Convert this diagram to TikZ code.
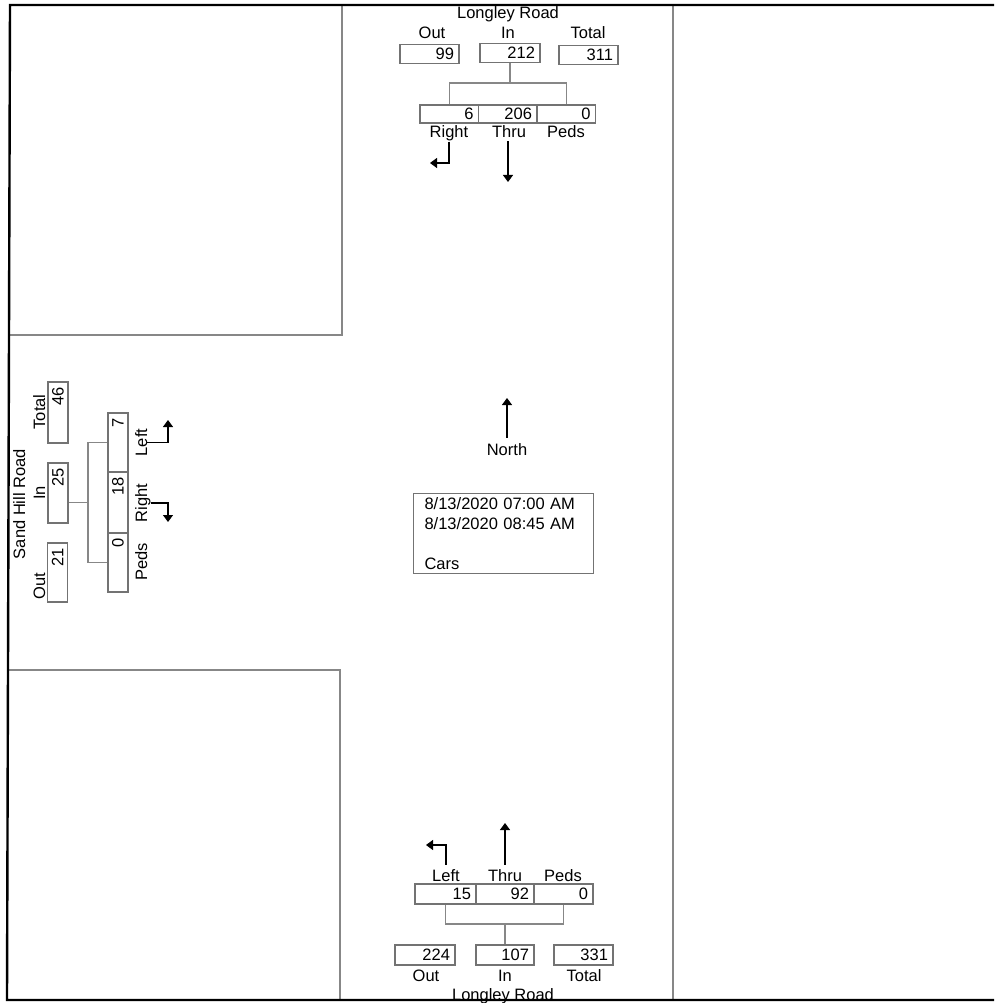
\documentclass[tikz,border=0pt]{standalone}
\usepackage{fontspec}
\setmainfont{Liberation Sans}
\usetikzlibrary{arrows.meta,calc}
\definecolor{boxgray}{RGB}{115,115,115}
\definecolor{linegray}{RGB}{135,135,135}
\begin{document}
\begin{tikzpicture}[x=1pt,y=-1pt,
  txt/.style={font=\fontsize{16.5}{20}\selectfont},
  lbl/.style={txt, inner sep=0pt, anchor=base},
  cnt/.style={txt, draw=boxgray, line width=1.1pt, inner xsep=5pt, inner ysep=0pt, align=right},
  tree/.style={draw=linegray, line width=1.1pt},
  road/.style={draw=linegray, line width=1.4pt},
  frame/.style={draw=black, line width=2.4pt},
  arr/.style={draw=black, line width=1.1pt, -{Triangle[length=7pt,width=10pt]}}]
\useasboundingbox (0,0) rectangle (994,1003);

% road edges
\draw[road] (9.5,335) -- (342,335) -- (342,5);
\draw[road] (8,670) -- (340,670) -- (340,1000);
\draw[road] (673,5) -- (673,1000);

% ---------- north approach ----------
\node[lbl] (tRoad) at (508,19) {Longley Road};
\node[lbl] (tOutL) at (432,39) {Out};
\node[lbl] (tInL) at (508,39) {In};
\node[lbl] (tTotL) at (588,39) {Total};
\node[cnt, text width=49pt, minimum height=19pt] (tOut) at (429.5,54) {99};
\node[cnt, text width=50pt, minimum height=19pt] (tIn) at (510,53) {212};
\node[cnt, text width=49pt, minimum height=19pt] (tTot) at (588.5,55) {311};
\node[cnt, text width=48.5pt, minimum height=18pt] (tR) at (449.25,114) {6};
\node[cnt, text width=48.5pt, minimum height=18pt] (tT) at (507.75,114) {206};
\node[cnt, text width=48.5pt, minimum height=18pt] (tP) at (566.25,114) {0};
\node[lbl] (tRL) at (449,138) {Right};
\node[lbl] (tTL) at (509,138) {Thru};
\node[lbl] (tPL) at (566,138) {Peds};
\coordinate (tJ) at (510,83);
\draw[tree] (tIn.south) -- (tJ);
\draw[tree] (tR.north) |- (tJ) -| (tP.north);
\coordinate (tRA) at (430,163);
\coordinate (tTA) at (508,182);
\draw[arr] (tRL.south) |- (tRA);
\draw[arr] ($(tTL.south -| tTA)+(0,3)$) -- (tTA);

% ---------- south approach ----------
\coordinate (bLA) at (426,845);
\coordinate (bTA) at (505,823);
\node[lbl] (bLL) at (446,881) {Left};
\node[lbl] (bTL) at (505,881) {Thru};
\node[lbl] (bPL) at (563,881) {Peds};
\draw[arr] ($(bLL.north)+(0,-4)$) |- (bLA);
\draw[arr] ($(bTL.north -| bTA)+(0,-4)$) -- (bTA);
\node[cnt, text width=51pt, minimum height=20pt] (bL) at (445.5,894) {15};
\node[cnt, text width=48pt, minimum height=20pt] (bT) at (505,894) {92};
\node[cnt, text width=49pt, minimum height=20pt] (bP) at (563.5,894) {0};
\coordinate (bJ) at (505,924);
\draw[tree] (bL.south) |- (bJ) -| (bP.south);
\node[cnt, text width=50pt, minimum height=20pt] (bOut) at (425,955) {224};
\node[cnt, text width=48pt, minimum height=20pt] (bIn) at (505,955) {107};
\node[cnt, text width=49pt, minimum height=20pt] (bTot) at (583.5,955) {331};
\draw[tree] (bJ) -- (bIn.north);
\node[lbl] (bOutL) at (426,981) {Out};
\node[lbl] (bInL) at (505,981) {In};
\node[lbl] (bTotL) at (584,981) {Total};
\node[lbl] (bRoad) at (503,1000) {Longley Road};

% ---------- west approach ----------
\node[lbl, rotate=90] (lRoad) at (25,504) {Sand Hill Road};
\node[lbl, rotate=90] (lOutL) at (45,586) {Out};
\node[lbl, rotate=90] (lInL) at (45,493) {In};
\node[lbl, rotate=90] (lTotL) at (45,412) {Total};
\node[cnt, rotate=90, text width=49pt, minimum height=20pt] (lOut) at (57.5,572.5) {21};
\node[cnt, rotate=90, text width=50pt, minimum height=20pt] (lIn) at (58,493) {25};
\node[cnt, rotate=90, text width=51pt, minimum height=20pt] (lTot) at (58,412.5) {46};
\node[cnt, rotate=90, text width=49pt, minimum height=20pt] (lL) at (118,442.5) {7};
\node[cnt, rotate=90, text width=51pt, minimum height=20pt] (lR) at (118,502.5) {18};
\node[cnt, rotate=90, text width=49pt, minimum height=20pt] (lP) at (118,562.5) {0};
\coordinate (lJ) at (88,502.5);
\draw[tree] (lIn.south |- lR.center) -- (lJ);
\draw[tree] (lL.north) -| (lJ) |- (lP.north);
\node[lbl, rotate=90] (lLL) at (147,442.5) {Left};
\node[lbl, rotate=90] (lRL) at (147,503) {Right};
\node[lbl, rotate=90] (lPL) at (147,562) {Peds};
\coordinate (lLA) at (168,420);
\coordinate (lRA) at (168,522);
\draw[arr] (lLL.south) -| (lLA);
\draw[arr] (lRL.south) -| (lRA);

% ---------- north arrow and study information ----------
\node[lbl] (north) at (507,455) {North};
\coordinate (nA) at (507,398);
\draw[arr] ($(north.north)+(0,-5)$) -- (nA);
\node[txt, draw=boxgray, line width=1.1pt, anchor=north west, inner xsep=11pt, inner ysep=4pt,
      text width=158pt, minimum height=80pt, align=left] (info) at (413,493)
  {8/13/2020 07:00 AM\\8/13/2020 08:45 AM\\[20pt]Cars};

% outer frame
\draw[frame] (994,5) -- (10,5) -- (7,1000) -- (994,1000);
\end{tikzpicture}
\end{document}
